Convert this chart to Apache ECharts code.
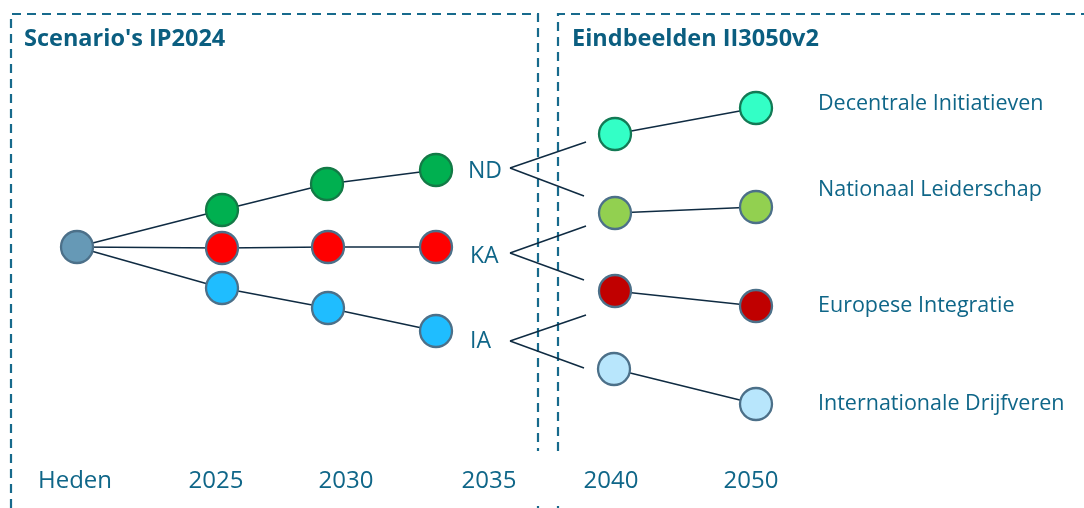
<!DOCTYPE html>
<html>
<head>
<meta charset="utf-8">
<script src="https://cdn.jsdelivr.net/npm/echarts@6/dist/echarts.min.js"></script>
<style>
  html, body { margin:0; padding:0; background:#fff; }
  #chart { width:1084px; height:508px; }
</style>
</head>
<body>
<div id="chart"></div>
<script type="text/javascript">
// diagram positions (in picture units, x to the right, y downwards)
var nodeNames = ['Heden',
  'ND 2025','KA 2025','IA 2025',
  'ND 2030','KA 2030','IA 2030',
  'ND 2035','KA 2035','IA 2035',
  'DI 2040','NL 2040','EI 2040','ID 2040',
  'DI 2050','NL 2050','EI 2050','ID 2050'];
var nodeX = [77, 222,222,222, 327,328,328, 436,436,436, 615,615,615,614, 756,756,756,756];
var nodeY = [247, 210,248,288, 184,247,308, 170,247,331, 134,213,291,369, 108,207,306,404];
var nodeFill = ['#6699b6',
  '#00b050','#ff0000','#1fbdff',
  '#00b050','#ff0000','#1fbdff',
  '#00b050','#ff0000','#1fbdff',
  '#33ffc6','#92d050','#c00000','#b8e6fc',
  '#33ffc6','#92d050','#c00000','#b8e6fc'];
var nodeBorder = ['#4c7089',
  '#137a46','#4c7089','#4c7089',
  '#137a46','#4c7089','#4c7089',
  '#137a46','#4c7089','#4c7089',
  '#137a55','#4c7089','#4c7089','#4c7089',
  '#137a55','#4c7089','#4c7089','#4c7089'];

// links between nodes (index pairs)
var links = [[0,1],[0,2],[0,3],[1,4],[2,5],[3,6],[4,7],[5,8],[6,9],
             [10,14],[11,15],[12,16],[13,17]];

// branches from the scenario labels towards the end pictures
var branchFrom = [[510,168],[510,168],[510,253],[510,253],[510,341],[510,341]];
var branchTo   = [[586,142],[584,196],[586,226],[584,280],[586,315],[584,368]];

var scenLabels = ['ND','KA','IA'];
var scenX = [468,470,470];
var scenY = [171,256,341];

var endLabels = ['Decentrale Initiatieven','Nationaal Leiderschap','Europese Integratie','Internationale Drijfveren'];
var endX = [818,818,818,818];
var endY = [104,190,306,404];

var years = ['Heden','2025','2030','2035','2040','2050'];
var yearX = [75,216,346,489,611,751];
var yearY = 481;

// dashed frames
var frameLeft  = [[11,508],[11,14],[538,14],[538,451]];
var frameRight = [[558,451],[558,14],[1084,14]];
var frameStubs = [[[538,506],[538,510]],[[558,506],[558,510]]];

var titles = ["Scenario's IP2024", 'Eindbeelden II3050v2'];
var titleX = [24,572];
var titleY = 39;

var textColor = '#0f6688';
var dash = [9,6];

var nodeData = nodeNames.map(function(n,i){
  return {name:n, value:[nodeX[i],nodeY[i]],
    itemStyle:{color:nodeFill[i], borderColor:nodeBorder[i], borderWidth:2.3, opacity:1}};
});
var linkData = links.map(function(l){
  return {coords:[[nodeX[l[0]],nodeY[l[0]]],[nodeX[l[1]],nodeY[l[1]]]]};
});
branchFrom.forEach(function(p,i){ linkData.push({coords:[p,branchTo[i]]}); });

function textSeries(names, xs, ys, style){
  return {
    type:'scatter', symbolSize:0, silent:true, z:5,
    itemStyle:{opacity:1},
    data: names.map(function(n,i){ return {name:n, value:[xs[i], Array.isArray(ys)?ys[i]:ys]}; }),
    label: Object.assign({show:true, position:'inside', formatter:'{b}',
      fontFamily:'Open Sans', color:textColor}, style)
  };
}

var chart = echarts.init(document.getElementById('chart'));
chart.setOption({
  animation:false,
  grid:{left:0,right:0,top:0,bottom:0},
  xAxis:{type:'value', min:0, max:1084, show:false},
  yAxis:{type:'value', min:0, max:508, inverse:true, show:false},
  series:[
    {type:'lines', coordinateSystem:'cartesian2d', polyline:true, silent:true,
     lineStyle:{color:'#176a8c', width:2.2, type:dash, opacity:1},
     data:[{coords:frameLeft},{coords:frameRight}].concat(frameStubs.map(function(c){return {coords:c};}))},
    {type:'lines', coordinateSystem:'cartesian2d', silent:true, z:3,
     lineStyle:{color:'#0f2b42', width:1.5, opacity:1},
     data:linkData},
    {type:'scatter', symbol:'circle', symbolSize:32, z:4, data:nodeData},
    textSeries(titles, titleX, titleY, {align:'left', fontSize:23.5, fontWeight:'bold', color:'#0b5e80'}),
    textSeries(scenLabels, scenX, scenY, {align:'left', fontSize:23}),
    textSeries(endLabels, endX, endY, {align:'left', fontSize:21.5}),
    textSeries(years, yearX, yearY, {align:'center', fontSize:24})
  ]
});
</script>
</body>
</html>
